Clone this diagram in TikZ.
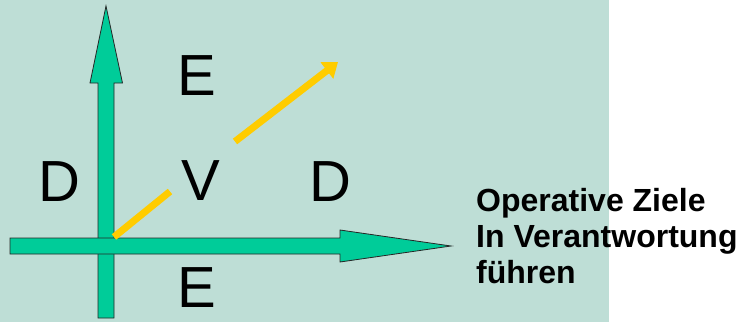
\documentclass[tikz,border=0pt]{standalone}
\usepackage{fontspec}
\setmainfont{Liberation Sans}
\usepackage{tikz}
\usetikzlibrary{arrows.meta}
\definecolor{bgteal}{RGB}{190,222,214}
\definecolor{arrowgreen}{RGB}{0,204,153}
\definecolor{goldline}{RGB}{255,204,0}
\tikzset{
  letter/.style={inner sep=0pt, font=\fontsize{58}{60}\selectfont},
  blockarrow/.style={draw=black!85, line width=0.8pt, fill=arrowgreen, line join=miter},
  goldpath/.style={draw=goldline, line width=7pt, line cap=butt}
}

\begin{document}
\begin{tikzpicture}[x=1pt, y=-1pt]
\fill[bgteal] (0,0) rectangle (609,322);
\useasboundingbox (0,0) rectangle (742,322);
% the two green axes
\draw[blockarrow] (98,318) -- (98,83) -- (90,83) -- (106,6) -- (122.5,83) -- (114,83) -- (114,318) -- cycle;
\draw[blockarrow] (10,238) -- (340,238) -- (340,230) -- (451,246) -- (340,262) -- (340,254) -- (10,254) -- cycle;
% letters
\node[letter] (etop) at (197,76) {E};
\node[letter] (dleft) at (59,182) {D};
\node[letter] (vmid) at (201,181) {V};
\node[letter] (dright) at (330,182) {D};
\node[letter] (ebottom) at (197,288) {E};
% yellow diagonal, broken at V
\coordinate (cross) at (114,237);
\coordinate (gapstart) at (170,191.5);
\coordinate (gapend) at (235,141.5);
\coordinate (goldtip) at (338,62);
\draw[goldpath] (cross) -- (gapstart);
\draw[goldpath, -{Triangle[length=14pt,width=20pt]}] (gapend) -- (goldtip);
% caption
\node[anchor=north west, inner sep=0pt, align=left,
      font=\fontsize{32}{36}\selectfont\bfseries] (goals) at (476,188)
  {Operative Ziele\\In Verantwortung\\führen};
\end{tikzpicture}
\end{document}
